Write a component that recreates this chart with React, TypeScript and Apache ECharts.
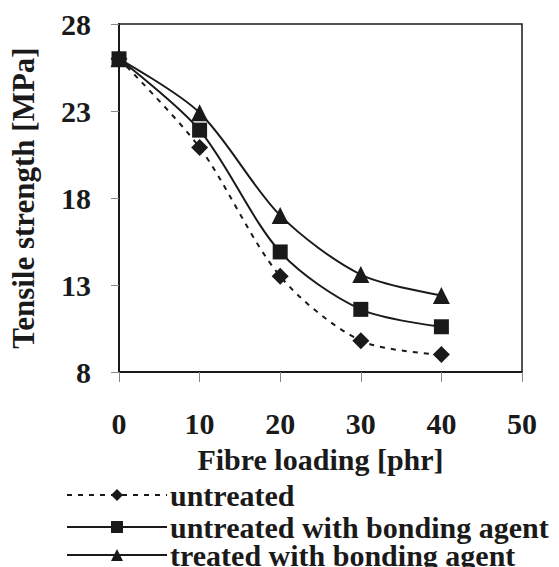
import React, { useEffect, useRef } from "react";
import * as echarts from "echarts";

const fibreLoading = [0, 10, 20, 30, 40];
const untreated = [26, 20.9, 13.5, 9.8, 9.0];
const untreatedBonding = [26, 21.9, 14.9, 11.6, 10.6];
const treatedBonding = [26, 22.9, 17.0, 13.6, 12.4];
const seriesNames = ["untreated", "untreated with bonding agent", "treated with bonding agent"];

const FONT = "'Liberation Serif', 'Times New Roman', serif";

export default function App() {
  const ref = useRef<HTMLDivElement>(null);
  useEffect(() => {
    document.body.style.margin = "0";
    const chart = echarts.init(ref.current!, null, { renderer: "svg" });
    const pair = (vals: number[]) => fibreLoading.map((x, i) => [x, vals[i]]);
    const black = "#1a1a1a";
    const legendText = { fontFamily: FONT, fontWeight: "bold", fontSize: 30, lineHeight: 26, color: black };
    const legendTops = [480, 512, 540];
    chart.setOption({
      animation: false,
      backgroundColor: "#fff",
      grid: {
        left: 116,
        right: 37,
        top: 24,
        bottom: 195,
        show: true,
        borderColor: black,
        borderWidth: 1.5,
      },
      xAxis: {
        type: "value",
        min: 0,
        max: 50,
        interval: 10,
        name: "Fibre loading [phr]",
        nameLocation: "middle",
        nameGap: 72,
        nameTextStyle: { fontFamily: FONT, fontWeight: "bold", fontSize: 30, color: black },
        axisLine: { show: true, lineStyle: { color: black, width: 2 } },
        axisTick: { show: true, inside: false, length: 10, lineStyle: { color: "#888", width: 1 } },
        axisLabel: { fontFamily: FONT, fontWeight: "bold", fontSize: 30, color: black, margin: 36 },
        splitLine: { show: false },
      },
      yAxis: {
        type: "value",
        min: 8,
        max: 28,
        interval: 5,
        name: "Tensile strength [MPa]",
        nameLocation: "middle",
        nameGap: 80,
        nameRotate: 90,
        nameTextStyle: { fontFamily: FONT, fontWeight: "bold", fontSize: 31, color: black },
        axisLine: { show: true, lineStyle: { color: black, width: 2 } },
        axisTick: { show: true, inside: false, length: 8, lineStyle: { color: "#888", width: 1 } },
        axisLabel: { fontFamily: FONT, fontWeight: "bold", fontSize: 30, color: black, margin: 28 },
        splitLine: { show: false },
      },
      legend: seriesNames.map((name, i) => ({
        orient: "vertical",
        left: 66,
        top: legendTops[i],
        itemWidth: 100,
        itemHeight: 15,
        itemGap: 0,
        padding: 0,
        textStyle: { ...legendText, padding: [0, 0, 0, -2] },
        data: [name],
      })),
      series: [
        {
          name: seriesNames[0],
          type: "line",
          data: pair(untreated),
          smooth: 0.3,
          symbol: "diamond",
          symbolSize: 17,
          itemStyle: { color: black },
          lineStyle: { color: black, width: 2, type: [5, 6] },
        },
        {
          name: seriesNames[1],
          type: "line",
          data: pair(untreatedBonding),
          smooth: 0.3,
          symbol: "rect",
          symbolSize: 15,
          itemStyle: { color: black },
          lineStyle: { color: black, width: 2 },
        },
        {
          name: seriesNames[2],
          type: "line",
          data: pair(treatedBonding),
          smooth: 0.3,
          symbol: "triangle",
          symbolSize: 17,
          itemStyle: { color: black },
          lineStyle: { color: black, width: 2 },
        },
      ],
    });
    return () => chart.dispose();
  }, []);
  return <div ref={ref} style={{ position: "absolute", left: 0, top: 0, width: 559, height: 567 }} />;
}
